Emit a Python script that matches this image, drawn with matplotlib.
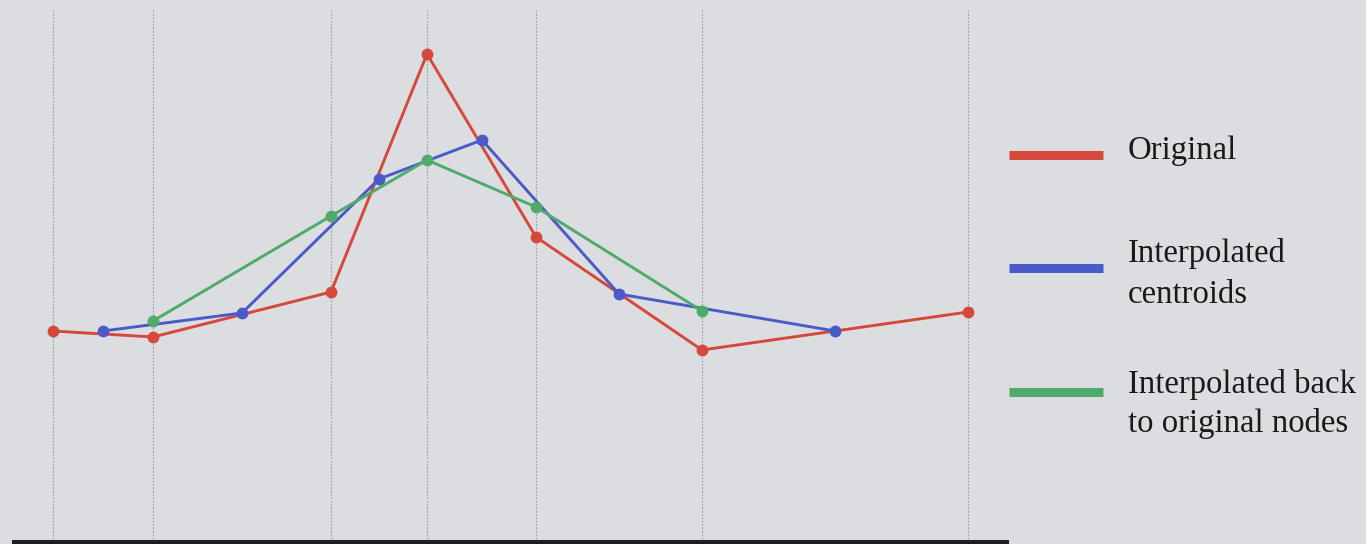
import matplotlib
matplotlib.use("Agg")
import matplotlib.pyplot as plt
from matplotlib.lines import Line2D

# Node positions and values
node_x = [0.0, 1.0, 2.78, 3.74, 4.83, 6.49, 9.15]
original = [2.09, 2.03, 2.48, 4.86, 3.03, 1.90, 2.28]

centroid_x = [0.50, 1.89, 3.26, 4.29, 5.66, 7.82]
centroids = [2.09, 2.27, 3.61, 4.00, 2.46, 2.09]

back_x = [1.0, 2.78, 3.74, 4.83, 6.49]
back_values = [2.19, 3.24, 3.80, 3.33, 2.29]

labels = ["Original", "Interpolated\ncentroids", "Interpolated back\nto original nodes"]

RED = "#d4493c"
BLUE = "#4a5bc9"
GREEN = "#4fab6c"
BG = "#dcdde1"

W, H = 1366, 544
fig = plt.figure(figsize=(W / 100, H / 100), dpi=100, facecolor=BG)
ax = fig.add_axes([14 / W, 2 / H, (1007 - 14) / W, (542 - 10) / H])
ax.set_facecolor(BG)

for x in node_x:
    ax.axvline(x, color="#9a9a9f", lw=0.8, ls=(0, (1.5, 1.5)), zorder=1)

series = [
    (node_x, original, RED),
    (centroid_x, centroids, BLUE),
    (back_x, back_values, GREEN),
]
for xs, ys, c in series:
    ax.plot(xs, ys, color=c, lw=2.1, marker="o", ms=7.5, zorder=3)

ax.set_xlim(-0.39, 9.54)
ax.set_ylim(-0.02, 5.30)
ax.set_xticks([])
ax.set_yticks([])
for side in ("top", "left", "right"):
    ax.spines[side].set_visible(False)
ax.spines["bottom"].set_color("#1e1e1e")
ax.spines["bottom"].set_linewidth(2.9)

# Legend drawn at the right side in figure pixel coordinates
def fx(px):
    return px / W

def fy(py):
    return 1 - py / H

handle_y = [155, 268, 392]
text_baselines = [[159], [262, 303], [393, 432]]
for (xs, ys, c), hy, lab, bases in zip(series, handle_y, labels, text_baselines):
    fig.add_artist(Line2D([fx(1009), fx(1103)], [fy(hy), fy(hy)],
                          transform=fig.transFigure, color=c, lw=6.5,
                          solid_capstyle="butt"))
    for line, by in zip(lab.split("\n"), bases):
        fig.text(fx(1128), fy(by), line, fontsize=23.6,
                 family="Liberation Serif", color="#1a1a1a",
                 ha="left", va="baseline")

fig.savefig("out.png", dpi=100, facecolor=BG)
